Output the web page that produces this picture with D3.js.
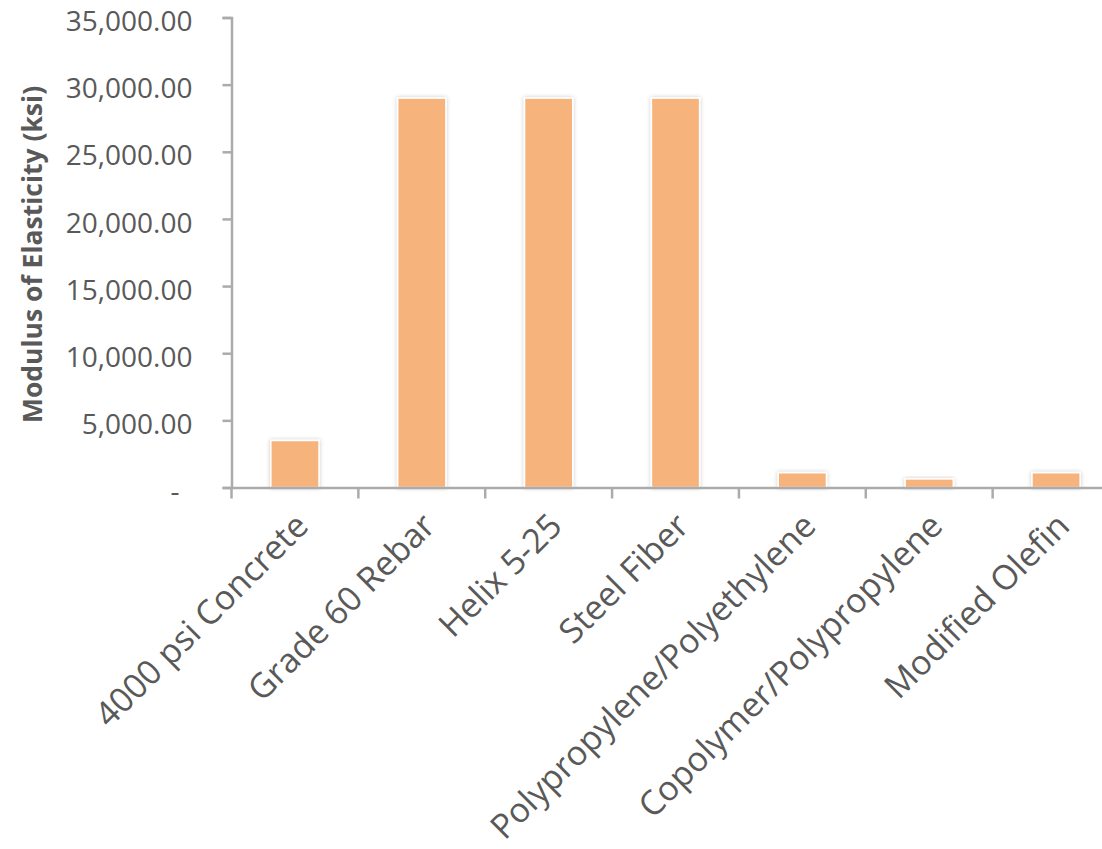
<!DOCTYPE html>
<html>
<head>
<meta charset="utf-8">
<script src="https://cdn.jsdelivr.net/npm/d3@7"></script>
<style>
  body { margin: 0; background: #fff; }
  svg text { font-family: "Open Sans", sans-serif; fill: #595959; }
</style>
</head>
<body>
<div id="chart"></div>
<script>
// data
var categories = ["4000 psi Concrete", "Grade 60 Rebar", "Helix 5-25", "Steel Fiber",
                  "Polypropylene/Polyethylene", "Copolymer/Polypropylene", "Modified Olefin"];
var modulus = [3500, 29000, 29000, 29000, 1100, 640, 1100];
var yTicks = [0, 5000, 10000, 15000, 20000, 25000, 30000, 35000];

var W = 1102, H = 849;
var x0 = 231.5, x1 = 1119.5, yBase = 487.5, yTop = 17.5;

var svg = d3.select("#chart").append("svg")
    .attr("width", W)
    .attr("height", H);

// soft grey shadow round the bars
var f = svg.append("defs").append("filter")
    .attr("id", "shade")
    .attr("x", "-30%").attr("y", "-30%")
    .attr("width", "160%").attr("height", "160%");
f.append("feDropShadow")
    .attr("dx", 0).attr("dy", 0)
    .attr("stdDeviation", 2.2)
    .attr("flood-color", "#000")
    .attr("flood-opacity", 0.22);

var x = d3.scaleBand().domain(categories).range([x0, x1]).padding(0);
var y = d3.scaleLinear().domain([0, 35000]).range([yBase, yTop]);

var barW = x.bandwidth() * 0.38;

// bars
svg.append("g")
  .selectAll("rect")
  .data(categories)
  .enter()
  .append("rect")
    .attr("x", function(d) { return x(d) + (x.bandwidth() - barW) / 2; })
    .attr("y", function(d, i) { return y(modulus[i]); })
    .attr("width", barW)
    .attr("height", function(d, i) { return yBase - y(modulus[i]); })
    .attr("fill", "#F7B37B")
    .attr("stroke", "#fff")
    .attr("stroke-width", 1.5)
    .attr("filter", "url(#shade)");

// y axis
var yAxis = svg.append("g")
    .attr("transform", "translate(" + x0 + ",0)")
    .call(d3.axisLeft(y).tickValues(yTicks).tickSize(9).tickPadding(30)
      .tickFormat(function(d) { return d === 0 ? "-" : d3.format(",.2f")(d); }));
yAxis.selectAll("text")
    .style("font-size", "28px")
    .attr("dy", "0.47em")
    .attr("dx", function(d) { return d === 0 ? -13 : 0; });

// x axis
var xAxis = svg.append("g")
    .attr("transform", "translate(0," + yBase + ")")
    .call(d3.axisBottom(x).tickSize(0).tickFormat(""));
xAxis.selectAll(".tick").remove();
xAxis.selectAll("line.sep")
    .data(d3.range(categories.length + 1))
    .enter()
    .append("line")
      .attr("class", "sep")
      .attr("x1", function(i) { return x0 + i * x.step(); })
      .attr("x2", function(i) { return x0 + i * x.step(); })
      .attr("y1", 0)
      .attr("y2", 11);

svg.selectAll(".domain, .tick line, line.sep")
    .attr("stroke", "#ABABAB")
    .attr("stroke-width", 2.5);

// rotated category labels
svg.append("g")
  .selectAll("text")
  .data(categories)
  .enter()
  .append("text")
    .attr("text-anchor", "end")
    .attr("transform", function(d) {
      return "translate(" + (x(d) + x.bandwidth() / 2 + 7) + "," + (yBase + 32) + ") rotate(-45)";
    })
    .attr("dy", "0.35em")
    .style("font-size", "34px")
    .text(function(d) { return d; });

// y axis title
svg.append("text")
    .attr("text-anchor", "middle")
    .attr("transform", "translate(42,254.5) rotate(-90)")
    .style("font-size", "26.5px")
    .style("font-weight", "bold")
    .text("Modulus of Elasticity (ksi)");
</script>
</body>
</html>
